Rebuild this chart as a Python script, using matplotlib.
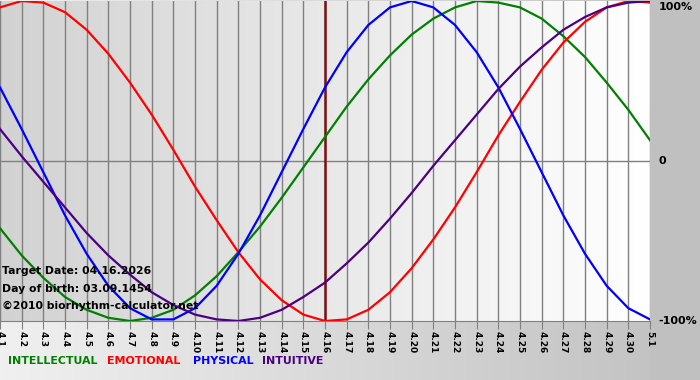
import matplotlib
matplotlib.use("Agg")
import matplotlib.pyplot as plt
import numpy as np

# day labels along the bottom (4.1 .. 4.30, 5.1)
days = ["4.%d" % i for i in range(1, 31)] + ["5.1"]
target_idx = 15  # 4.16

# daily biorhythm values (-1 .. 1)
intellectual = [-0.42, -0.59, -0.73, -0.85, -0.93, -0.98, -1.00, -0.98, -0.93, -0.84,
                -0.72, -0.57, -0.41, -0.23, -0.04, 0.15, 0.34, 0.51, 0.66, 0.79,
                0.89, 0.96, 1.00, 0.99, 0.96, 0.89, 0.78, 0.65, 0.49, 0.32, 0.13]
emotional = [0.96, 1.00, 0.99, 0.93, 0.82, 0.67, 0.49, 0.29, 0.07, -0.16,
             -0.37, -0.57, -0.74, -0.87, -0.96, -1.00, -0.99, -0.93, -0.82, -0.67,
             -0.49, -0.29, -0.07, 0.16, 0.37, 0.57, 0.74, 0.87, 0.96, 1.00, 0.99]
physical = [0.46, 0.20, -0.07, -0.34, -0.58, -0.78, -0.92, -0.99, -0.99, -0.92,
            -0.78, -0.58, -0.34, -0.07, 0.20, 0.46, 0.68, 0.85, 0.96, 1.00,
            0.96, 0.85, 0.68, 0.46, 0.20, -0.07, -0.34, -0.58, -0.78, -0.92, -0.99]
intuitive = [0.20, 0.03, -0.13, -0.29, -0.45, -0.59, -0.71, -0.82, -0.90, -0.96,
             -0.99, -1.00, -0.98, -0.93, -0.85, -0.76, -0.64, -0.51, -0.36, -0.20,
             -0.03, 0.13, 0.29, 0.45, 0.59, 0.71, 0.82, 0.90, 0.96, 0.99, 1.00]

series = [("INTELLECTUAL", intellectual, "#008000"),
          ("EMOTIONAL", emotional, "#ff0000"),
          ("PHYSICAL", physical, "#0000ff"),
          ("INTUITIVE", intuitive, "#4b0082")]

W, H = 700, 380
fig = plt.figure(figsize=(W / 100, H / 100), dpi=100)

# background of the whole picture: light on the left, gray on the right
bg = fig.add_axes([0, 0, 1, 1])
bg.axis("off")
grad = np.linspace(0, 1, 256).reshape(1, -1)
bg.imshow(grad, aspect="auto", cmap=matplotlib.colors.LinearSegmentedColormap.from_list(
    "bg", ["#f0f0f0", "#c0c0c0"]), extent=[0, 1, 0, 1])
bg.set_xlim(0, 1)
bg.set_ylim(0, 1)
bg.add_patch(plt.Rectangle((650 / W, 0), 50 / W, 1, color="#c0c0c0", zorder=2))

ax = fig.add_axes([0, 1 - 321 / H, 650 / W, 320 / H])
x = np.arange(len(days))
ax.set_xlim(0, len(days) - 1)
ax.set_ylim(-1, 1)

# plot area gradient: gray on the left to white on the right
ax.imshow(grad, aspect="auto", extent=[0, len(days) - 1, -1, 1],
          cmap=matplotlib.colors.LinearSegmentedColormap.from_list("pa", ["#d2d2d2", "#ffffff"]),
          zorder=0)

for xi in x:
    ax.axvline(xi, color="#808080", lw=1, zorder=1)
ax.axhline(0, color="#808080", lw=1, zorder=1)
ax.axvline(target_idx, color="#7a1010", lw=1.8, zorder=3)

for name, vals, col in series:
    ax.plot(x, vals, color=col, lw=1.6, zorder=4)

for s in ["left", "right", "top"]:
    ax.spines[s].set_visible(False)
ax.spines["bottom"].set_color("#808080")
ax.set_yticks([])
ax.set_xticks(x)
ax.set_xticklabels(days, rotation=270, fontsize=6.5, fontweight="bold")
ax.tick_params(axis="x", length=6, color="#808080", pad=1)

# right side percent labels (pixel offsets to keep 100% inside the picture)
for val, lab, dy in [(1, "100%", -6), (0, "0", 0), (-1, "-100%", 0)]:
    ax.annotate(lab, (len(days) - 1, val), xytext=(6, dy * 0.72), textcoords="offset points",
                fontsize=8, fontweight="bold", va="center", ha="left", annotation_clip=False)

# info text in the lower left corner
info = ["Target Date: 04.16.2026", "Day of birth: 03.09.1454", "\u00a92010 biorhythm-calculator.net"]
for i, t in enumerate(info):
    fig.text(2 / W, 1 - (271 + i * 17.5) / H, t, fontsize=7.8, fontweight="bold",
             va="center", ha="left", zorder=5)

# legend at the bottom
legend_x = [8, 107, 193, 262]
for (name, vals, col), lx in zip(series, legend_x):
    fig.text(lx / W, 1 - 361 / H, name, color=col, fontsize=7.9, fontweight="bold",
             va="center", ha="left")

fig.savefig("out.png", dpi=100)
